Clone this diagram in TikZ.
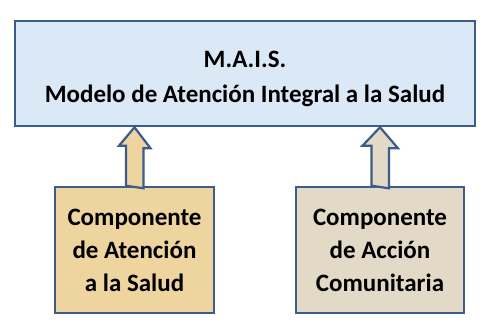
\documentclass[tikz,border=0pt]{standalone}
\usepackage{fontspec}
\setmainfont{Carlito}
\definecolor{edgeblue}{RGB}{60,92,140}
\definecolor{topfill}{RGB}{219,232,246}
\definecolor{tanfill}{RGB}{238,212,158}
\definecolor{greyfill}{RGB}{226,217,198}
\begin{document}
\begin{tikzpicture}[x=1pt,y=1pt,
  txt/.style={align=center,font=\bfseries\fontsize{25}{33}\selectfont,inner sep=0pt},
  box/.style={txt,draw=edgeblue,line width=2.6pt},
  uparrow/.style={draw=edgeblue,line width=2.2pt,line join=miter}]
\useasboundingbox (0,0) rectangle (483,327);
\node[box,fill=topfill,minimum width=460,minimum height=105] (mais) at (245,253.5) {};
\node[txt] (maistext) at (245,248.5) {M.A.I.S.\\[2pt]Modelo de Atención Integral a la Salud};
\node[box,fill=tanfill,minimum width=159,minimum height=126] (ate) at (134.5,77)
  {Componente\\de Atención\\a la Salud};
\node[box,fill=greyfill,minimum width=168,minimum height=126] (acc) at (380,77)
  {Componente\\de Acción\\Comunitaria};
% arrows
\draw[uparrow,fill=tanfill] (ate.north) ++(-8.5,0) coordinate (a1)
  -- ++(0,40) -- ++(-7,0) -- (mais.south -| ate.north) -- ++(16,-21) -- ++(-7,0) -- ++(0,-40) -- cycle;
\draw[uparrow,fill=greyfill] (acc.north) ++(-8.5,0) coordinate (b1)
  -- ++(0,40) -- ++(-9,0) -- (mais.south -| acc.north) -- ++(18,-21) -- ++(-9,0) -- ++(0,-40) -- cycle;
\end{tikzpicture}
\end{document}
